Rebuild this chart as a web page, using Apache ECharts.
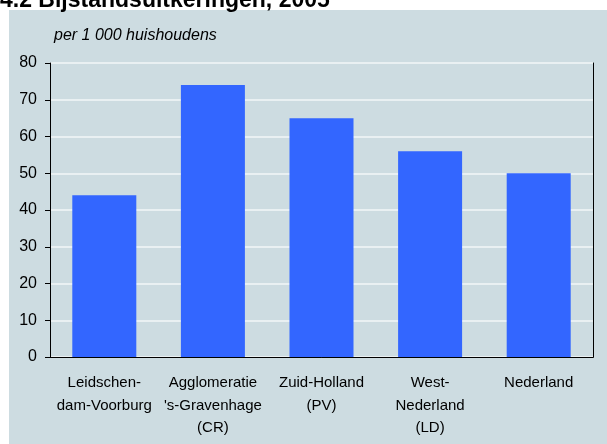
<!DOCTYPE html>
<html>
<head>
<meta charset="utf-8">
<script src="https://cdn.jsdelivr.net/npm/echarts@6/dist/echarts.min.js"></script>
<style>html,body{margin:0;padding:0;background:#fff}#c{width:607px;height:444px}</style>
</head>
<body>
<div id="c"></div>
<script>
const categories = ['Leidschen-\ndam-Voorburg', "Agglomeratie\n's-Gravenhage\n(CR)", 'Zuid-Holland\n(PV)', 'West-\nNederland\n(LD)', 'Nederland'];
const values = [44, 74, 65, 56, 50];
const yTicks = { min: 0, max: 80, interval: 10 };
const titleText = '4.2 Bijstandsuitkeringen, 2005';
const unitText = 'per 1 000 huishoudens';

const FONT = '"Liberation Sans", Arial, sans-serif';
const chart = echarts.init(document.getElementById('c'), null, { renderer: 'canvas' });
chart.setOption({
  backgroundColor: '#ffffff',
  animation: false,
  graphic: [
    { type: 'text', left: 0, top: -11, z: 0, style: { text: titleText, font: 'bold 23px ' + FONT, fill: '#000' } },
    { type: 'rect', shape: { x: 9, y: 10, width: 598, height: 434 }, z: -1, zlevel: 0, style: { fill: '#cddce1' } },
    { type: 'text', left: 54, top: 28, style: { text: unitText, font: 'italic 16px ' + FONT, fill: '#000' } }
  ],
  grid: { left: 50, right: 14, top: 63, bottom: 87, containLabel: false },
  xAxis: [
    {
      type: 'category', data: categories,
      axisLine: { lineStyle: { color: '#000', width: 1 } },
      axisTick: { show: false },
      axisLabel: { color: '#000', fontSize: 15, fontFamily: FONT, lineHeight: 22.5, margin: 15, interval: 0 }
    },
    {
      type: 'category', data: categories, position: 'top',
      axisLine: { lineStyle: { color: '#000', width: 1 } },
      axisTick: { show: false }, axisLabel: { show: false }
    }
  ],
  yAxis: [
    {
      type: 'value', min: yTicks.min, max: yTicks.max, interval: yTicks.interval,
      axisLine: { show: true, lineStyle: { color: '#000', width: 1 } },
      axisTick: { show: true, length: 5, lineStyle: { color: '#000' } },
      axisLabel: { color: '#000', fontSize: 16, fontFamily: FONT, margin: 13 },
      splitLine: { show: true, lineStyle: { color: '#e9f0f2', width: 2 } }
    },
    {
      type: 'value', min: yTicks.min, max: yTicks.max, interval: yTicks.interval, position: 'right',
      axisLine: { show: true, lineStyle: { color: '#000', width: 1 } },
      axisTick: { show: false }, axisLabel: { show: false }, splitLine: { show: false }
    }
  ],
  series: [{
    type: 'bar', data: values, barWidth: 64,
    itemStyle: { color: '#3366ff' }
  }]
});
</script>
</body>
</html>
